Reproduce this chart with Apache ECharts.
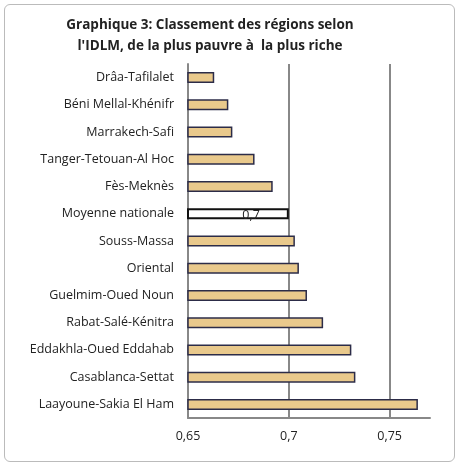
<!DOCTYPE html><html><head><meta charset="utf-8"><script src="https://cdn.jsdelivr.net/npm/echarts@6/dist/echarts.min.js"></script>
<style>body{margin:0;background:#fff}#b{position:absolute;left:4px;top:4px;width:449px;height:456px;border:1px solid #bbb;border-radius:6px}#c{width:459px;height:466px}</style></head><body><div id="b"></div><div id="c"></div><script>
const categories=["Drâa-Tafilalet","Béni Mellal-Khénifr","Marrakech-Safi","Tanger-Tetouan-Al Hoc","Fès-Meknès","Moyenne nationale","Souss-Massa","Oriental","Guelmim-Oued Noun","Rabat-Salé-Kénitra","Eddakhla-Oued Eddahab","Casablanca-Settat","Laayoune-Sakia El Ham"];
const values=[0.663,0.670,0.672,0.683,0.692,0.700,0.703,0.705,0.709,0.717,0.731,0.733,0.764];
const avgName="Moyenne nationale";
const c=echarts.init(document.getElementById('c'));
c.setOption({animation:false,
title:{text:"Graphique 3: Classement des régions selon\nl'IDLM, de la plus pauvre à  la plus riche",left:205,top:10,textAlign:'center',textStyle:{fontFamily:'Open Sans',fontSize:13.5,fontWeight:'bold',color:'#222',lineHeight:21}},
grid:{left:188,right:29,top:64,bottom:48},
xAxis:{type:'value',min:0.65,max:0.77,interval:0.05,axisLine:{show:true,lineStyle:{color:'#888',width:2}},axisTick:{show:false},
axisLabel:{showMaxLabel:false,fontFamily:'Open Sans',fontSize:12.5,color:'#222',margin:12,formatter:v=>String(+v.toFixed(2)).replace('.',',')},
splitLine:{showMaxLine:false,lineStyle:{color:'#888',width:2}}},
yAxis:{type:'category',inverse:true,data:categories,axisLine:{lineStyle:{color:'#888',width:2}},axisTick:{show:false},axisLabel:{fontFamily:'Open Sans',fontSize:12.5,color:'#222',margin:14}},
series:[{type:'bar',barWidth:11,data:values.map((v,i)=>categories[i]===avgName?{value:v,itemStyle:{color:'#fff',borderColor:'#111',borderWidth:2},label:{show:true,position:'insideRight',offset:[-24,2],formatter:'0,7',color:'#222',fontSize:12.5,fontFamily:'Open Sans'}}:v),
itemStyle:{color:'#e9c98c',borderColor:'#2c2c48',borderWidth:1.5}}]});
</script></body></html>
